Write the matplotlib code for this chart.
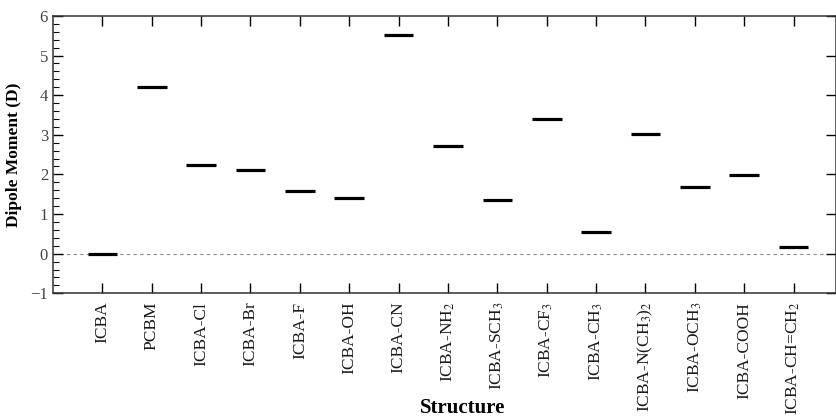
import matplotlib
matplotlib.use('Agg')
import matplotlib.pyplot as plt
from matplotlib.ticker import MultipleLocator

plt.rcParams['font.family'] = ['Liberation Serif', 'DejaVu Serif']
plt.rcParams['mathtext.fontset'] = 'stix'

# Strukturen und Dipolmomente (Debye)
structures = ['ICBA', 'PCBM', 'ICBA-Cl', 'ICBA-Br', 'ICBA-F', 'ICBA-OH', 'ICBA-CN',
              'ICBA-NH$_2$', 'ICBA-SCH$_3$', 'ICBA-CF$_3$', 'ICBA-CH$_3$',
              'ICBA-N(CH$_3$)$_2$', 'ICBA-OCH$_3$', 'ICBA-COOH', 'ICBA-CH=CH$_2$']
dipole = [0.0, 4.20, 2.25, 2.12, 1.59, 1.41, 5.53, 2.71, 1.35, 3.40, 0.54,
          3.02, 1.68, 1.98, 0.18]

fig = plt.figure(figsize=(8.37, 4.19), dpi=100)
ax = fig.add_axes([0.0633, 0.300, 0.935, 0.662])

half = 0.3
for i, d in enumerate(dipole):
    ax.hlines(d, i - half, i + half, color='black', linewidth=2.3)

ax.axhline(0, color='#888888', linestyle=(0, (3, 3)), linewidth=0.8, zorder=0)

ax.set_xlim(-1, 14.85)
ax.set_ylim(-1, 6)
ax.set_xticks(range(len(structures)))
ax.set_xticklabels(structures, rotation=90, fontsize=12.5, color='#1a1a1a')
ax.yaxis.set_major_locator(MultipleLocator(1))
ax.yaxis.set_minor_locator(MultipleLocator(0.2))
ax.tick_params(axis='y', which='major', direction='in', length=7, right=True,
               labelsize=12, labelcolor='#444444', width=1)
ax.tick_params(axis='y', which='minor', direction='in', length=4, right=False, width=0.8)
ax.tick_params(axis='x', which='major', direction='in', length=7, top=True, width=1, pad=6)
for s in ax.spines.values():
    s.set_linewidth(1.1)
    s.set_color('#333333')

ax.set_ylabel('Dipole Moment (D)', fontsize=12.5, fontweight='bold', labelpad=6)
ax.set_xlabel('Structure', fontsize=15, fontweight='bold')
ax.xaxis.set_label_coords(0.523, -0.378)

fig.savefig('out.png', dpi=100)
